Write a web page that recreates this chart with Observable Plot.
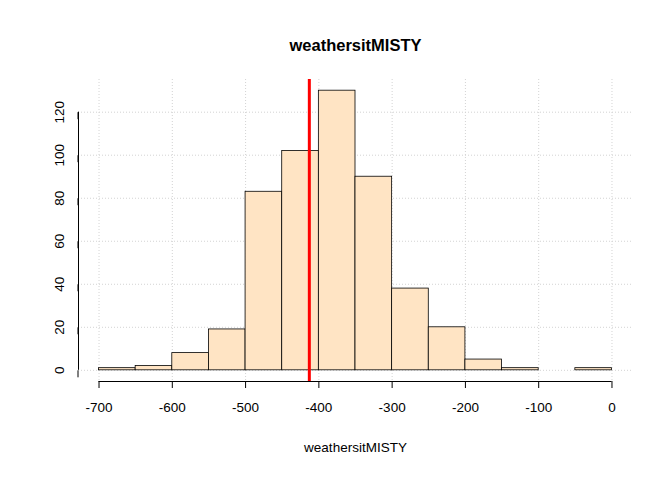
<!DOCTYPE html>
<html>
<head>
<meta charset="utf-8">
<script src="https://cdn.jsdelivr.net/npm/d3@7"></script>
<script src="https://cdn.jsdelivr.net/npm/@observablehq/plot@0.6"></script>
<style>body{margin:0;background:#fff}</style>
</head>
<body>
<div id="chart"></div>
<script>
const binStart = [-700,-650,-600,-550,-500,-450,-400,-350,-300,-250,-200,-150,-100,-50];
const counts   = [1,2,8,19,83,102,130,90,38,20,5,1,0,1];
const meanLine = -413;
const xTicks = [-700,-600,-500,-400,-300,-200,-100,0];
const yTicks = [0,20,40,60,80,100,120];

const bins = binStart.map((s, i) => ({x1: s, x2: s + 50, y: counts[i]}));

let chart = Plot.plot({
  width: 672,
  height: 480,
  marginTop: 79,
  marginLeft: 78,
  marginRight: 40,
  marginBottom: 99,
  style: {fontFamily: "Liberation Sans, Arial, sans-serif", fontSize: "13.5px", color: "black", background: "white"},
  x: {domain: [-728, 28]},
  y: {domain: [-5.2, 135.2]},
  marks: [
    Plot.gridX(xTicks, {stroke: "#d3d3d3", strokeOpacity: 1, strokeDasharray: "1,2"}),
    Plot.gridY(yTicks, {stroke: "#d3d3d3", strokeOpacity: 1, strokeDasharray: "1,2"}),
    Plot.rectY(bins, {x1: "x1", x2: "x2", y: "y", fill: "bisque", stroke: "black", strokeWidth: 0.8}),
    Plot.ruleX([meanLine], {stroke: "red", strokeWidth: 3}),
    Plot.axisX(xTicks, {anchor: "bottom", tickSize: 7, tickPadding: 14, label: null, fontSize: 13.5, tickFormat: d => String(d)}),
    Plot.axisY(yTicks, {anchor: "left", tickSize: 7, tickPadding: 12, label: null, rotate: -90, textAnchor: "middle", fontSize: 13.5, tickFormat: d => String(d)}),
    Plot.ruleY([-5.2], {x1: -700, x2: 0, stroke: "black"}),
    Plot.ruleX([-728], {y1: 0, y2: 120, stroke: "black"}),
    Plot.text(["weathersitMISTY"], {frameAnchor: "top", dy: -40, fontWeight: "bold", fontSize: 16.5}),
    Plot.text(["weathersitMISTY"], {frameAnchor: "bottom", dy: 70, fontSize: 13.5})
  ]
});
d3.select("#chart").append(() => chart);
</script>
</body>
</html>
